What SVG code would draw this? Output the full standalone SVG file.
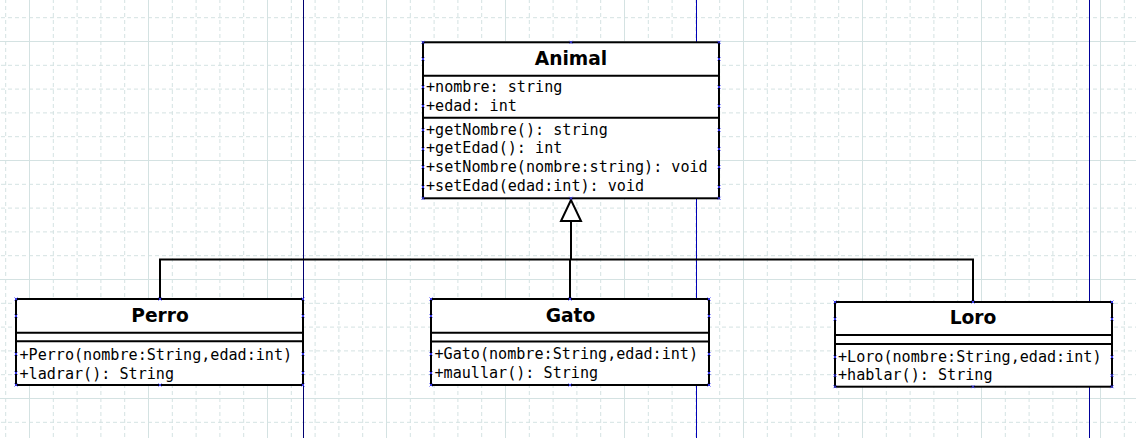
<svg xmlns="http://www.w3.org/2000/svg" width="1136" height="438" viewBox="0 0 1136 438">
<style>
.box{fill:#fff;stroke:#000;stroke-width:2}
.div{stroke:#000;stroke-width:2;fill:none}
.title{font-family:"DejaVu Sans",sans-serif;font-weight:bold;font-size:18.67px;fill:#000;text-anchor:middle}
.mem{font-family:"DejaVu Sans Mono","Liberation Mono",monospace;font-size:15.1px;fill:#000}
.conn{stroke:#000;stroke-width:2;fill:none}
.gmaj{stroke:#d4e2e2;stroke-width:1;fill:none}
.gmin{stroke:#d4e2e2;stroke-width:1;fill:none;stroke-dasharray:4 3}
.h{stroke:#3a3aff;stroke-width:0.9;fill:none}
</style>
<defs>
<pattern id="grid" x="29" y="41" width="119" height="119" patternUnits="userSpaceOnUse">
<path class="gmin" d="M24.3 0V119M48.1 0V119M71.9 0V119M95.7 0V119M0 24.3H119M0 48.1H119M0 71.9H119M0 95.7H119"/>
<path class="gmaj" d="M0.5 0V119M0 0.5H119"/>
</pattern>
<path id="m" class="h" d="M-1.5 -1.5L1.5 1.5M-1.5 1.5L1.5 -1.5"/>
</defs>
<rect width="1136" height="438" fill="#fff"/>
<rect width="1136" height="438" fill="url(#grid)"/>
<g id="lanes">
<line x1="303.5" y1="0" x2="303.5" y2="438" stroke="#000070" stroke-width="1"/>
<line x1="696.5" y1="0" x2="696.5" y2="438" stroke="#0000b8" stroke-width="1"/>
<line x1="1089.5" y1="0" x2="1089.5" y2="438" stroke="#00009a" stroke-width="1"/>
</g>
<g id="connectors">
<polyline class="conn" points="160,299 160,259.5 973,259.5 973,302"/>
<line class="conn" x1="570" y1="259.5" x2="570" y2="299"/>
<line class="conn" x1="571" y1="221" x2="571" y2="259.5"/>
<polygon points="571,200 561,221 581,221" fill="#fff" stroke="#000" stroke-width="2"/>
</g>
<g id="Animal">
<rect class="box" x="423" y="42.3" width="296" height="156"/>
<path class="div" d="M423 75.7H719M423 117.7H719"/>
<text class="title" x="571" y="65">Animal</text>
<text class="mem" x="426" y="91.5">+nombre: string</text>
<text class="mem" x="426" y="110.5">+edad: int</text>
<text class="mem" x="426" y="134.5">+getNombre(): string</text>
<text class="mem" x="426" y="153.3">+getEdad(): int</text>
<text class="mem" x="426" y="172.2">+setNombre(nombre:string): void</text>
<text class="mem" x="426" y="191">+setEdad(edad:int): void</text>
<g>
<use href="#m" x="423" y="42.3"/><use href="#m" x="571" y="42.3"/><use href="#m" x="719" y="42.3"/>
<use href="#m" x="423" y="198.3"/><use href="#m" x="571" y="198.3"/><use href="#m" x="719" y="198.3"/>
<use href="#m" x="423" y="59"/><use href="#m" x="719" y="59"/>
<use href="#m" x="423" y="87"/><use href="#m" x="719" y="87"/>
<use href="#m" x="423" y="106"/><use href="#m" x="719" y="106"/>
<use href="#m" x="423" y="130"/><use href="#m" x="719" y="130"/>
<use href="#m" x="423" y="149"/><use href="#m" x="719" y="149"/>
<use href="#m" x="423" y="167"/><use href="#m" x="719" y="167"/>
<use href="#m" x="423" y="187"/><use href="#m" x="719" y="187"/>
</g>
</g>
<g id="Perro">
<rect class="box" x="16" y="299" width="287" height="86"/>
<path class="div" d="M16 332.7H303M16 341.3H303"/>
<text class="title" x="160" y="321.7">Perro</text>
<text class="mem" x="19.5" y="359.7">+Perro(nombre:String,edad:int)</text>
<text class="mem" x="19.5" y="378.7">+ladrar(): String</text>
<g>
<use href="#m" x="16" y="299"/><use href="#m" x="160" y="299"/><use href="#m" x="303" y="299"/>
<use href="#m" x="16" y="385"/><use href="#m" x="160" y="385"/><use href="#m" x="303" y="385"/>
<use href="#m" x="16" y="316"/><use href="#m" x="303" y="316"/>
<use href="#m" x="16" y="354"/><use href="#m" x="303" y="354"/>
<use href="#m" x="16" y="373"/><use href="#m" x="303" y="373"/>
</g>
</g>
<g id="Gato">
<rect class="box" x="431" y="299" width="278" height="86"/>
<path class="div" d="M431 332.7H709M431 341.5H709"/>
<text class="title" x="570.5" y="321.7">Gato</text>
<text class="mem" x="434.5" y="359.3">+Gato(nombre:String,edad:int)</text>
<text class="mem" x="434.5" y="378.3">+maullar(): String</text>
<g>
<use href="#m" x="431" y="299"/><use href="#m" x="570" y="299"/><use href="#m" x="709" y="299"/>
<use href="#m" x="431" y="385"/><use href="#m" x="570" y="385"/><use href="#m" x="709" y="385"/>
<use href="#m" x="431" y="316"/><use href="#m" x="709" y="316"/>
<use href="#m" x="431" y="354"/><use href="#m" x="709" y="354"/>
<use href="#m" x="431" y="373"/><use href="#m" x="709" y="373"/>
</g>
</g>
<g id="Loro">
<rect class="box" x="835" y="302" width="277" height="84.7"/>
<path class="div" d="M835 335H1112M835 344H1112"/>
<text class="title" x="973" y="324">Loro</text>
<text class="mem" x="838" y="361.5">+Loro(nombre:String,edad:int)</text>
<text class="mem" x="838" y="380.3">+hablar(): String</text>
<g>
<use href="#m" x="835" y="302"/><use href="#m" x="973" y="302"/><use href="#m" x="1112" y="302"/>
<use href="#m" x="835" y="386.7"/><use href="#m" x="973" y="386.7"/><use href="#m" x="1112" y="386.7"/>
<use href="#m" x="835" y="319"/><use href="#m" x="1112" y="319"/>
<use href="#m" x="835" y="357"/><use href="#m" x="1112" y="357"/>
<use href="#m" x="835" y="375.5"/><use href="#m" x="1112" y="375.5"/>
</g>
</g>
</svg>
